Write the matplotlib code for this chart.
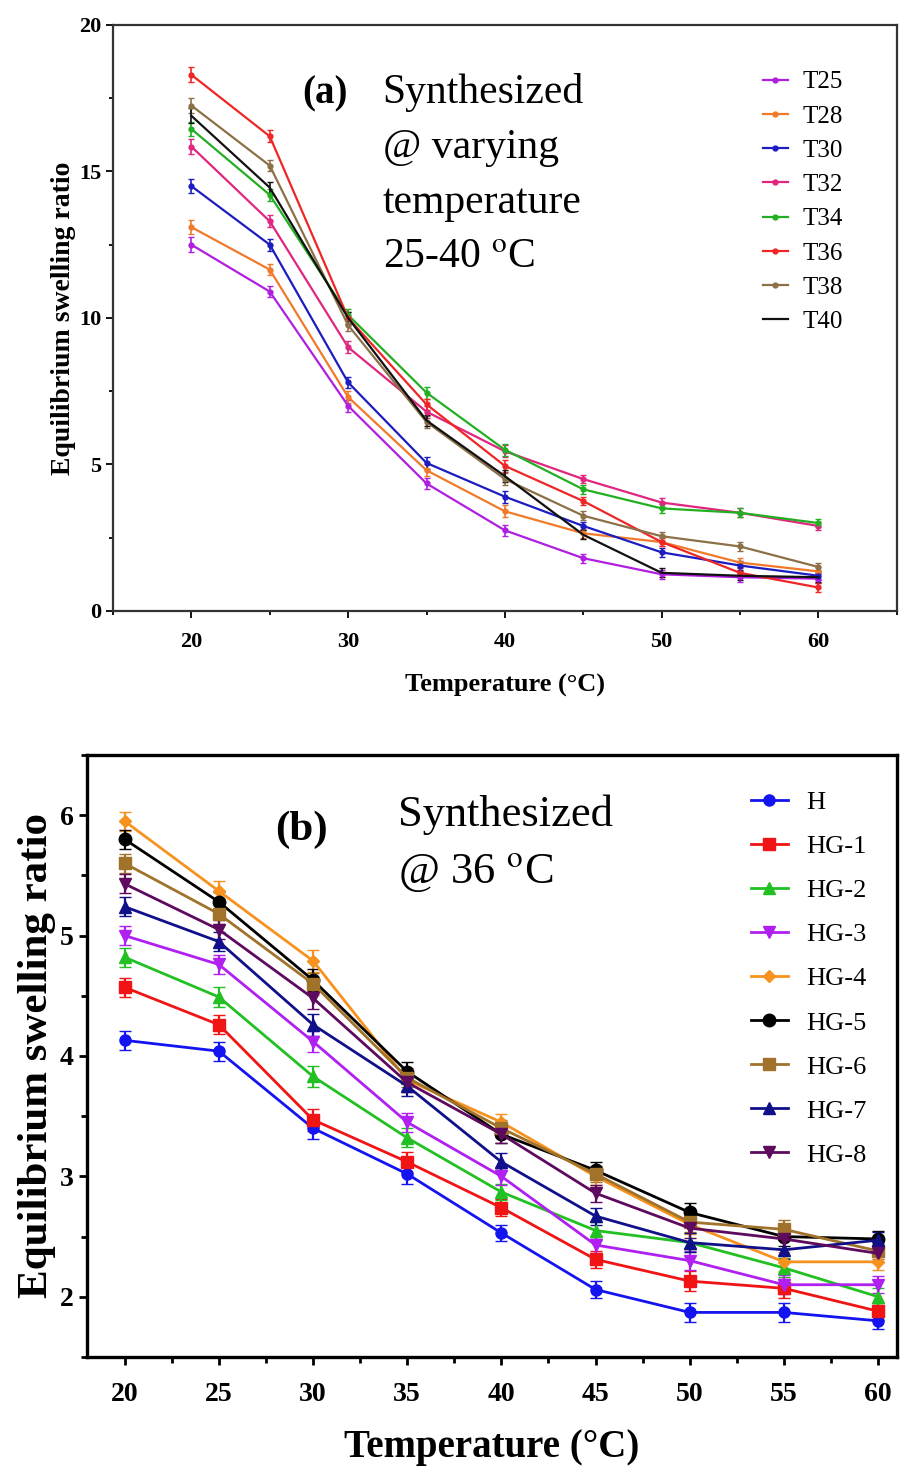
import matplotlib
matplotlib.use("Agg")
import matplotlib.pyplot as plt
from matplotlib.ticker import MultipleLocator

plt.rcParams['font.family'] = ['Liberation Serif', 'DejaVu Serif']
plt.rcParams['mathtext.fontset'] = 'stix'

# ---- panel (a) data ----
temp = [20, 25, 30, 35, 40, 45, 50, 55, 60]
labels_a = ['T25', 'T28', 'T30', 'T32', 'T34', 'T36', 'T38', 'T40']
t25 = [12.5, 10.9, 7.0, 4.35, 2.75, 1.8, 1.25, 1.15, 1.1]
t28 = [13.1, 11.65, 7.3, 4.8, 3.4, 2.65, 2.35, 1.65, 1.35]
t30 = [14.5, 12.5, 7.8, 5.05, 3.9, 2.9, 2.0, 1.55, 1.2]
t32 = [15.85, 13.3, 9.0, 6.8, 5.45, 4.5, 3.7, 3.35, 2.9]
t34 = [16.45, 14.2, 10.1, 7.45, 5.5, 4.15, 3.5, 3.35, 3.0]
t36 = [18.3, 16.2, 10.0, 7.05, 4.95, 3.75, 2.35, 1.3, 0.8]
t38 = [17.25, 15.2, 9.75, 6.45, 4.5, 3.25, 2.55, 2.2, 1.5]
t40 = [16.9, 14.45, 10.0, 6.5, 4.6, 2.6, 1.3, 1.2, 1.15]
err_a = [0.25, 0.2, 0.2, 0.2, 0.2, 0.15, 0.15, 0.15, 0.15]
series_a = [t25, t28, t30, t32, t34, t36, t38, t40]
colors_a = ['#b01fe0', '#f07a2a', '#1c1cc0', '#e0267e', '#22b022',
            '#f02626', '#8c7048', '#111111']

# ---- panel (b) data ----
labels_b = ['H', 'HG-1', 'HG-2', 'HG-3', 'HG-4', 'HG-5', 'HG-6', 'HG-7', 'HG-8']
h = [4.13, 4.04, 3.4, 3.02, 2.53, 2.06, 1.87, 1.87, 1.8]
hg1 = [4.57, 4.26, 3.47, 3.12, 2.74, 2.31, 2.13, 2.07, 1.88]
hg2 = [4.82, 4.49, 3.83, 3.32, 2.87, 2.55, 2.45, 2.24, 2.0]
hg3 = [5.0, 4.76, 4.12, 3.45, 3.0, 2.43, 2.3, 2.1, 2.1]
hg4 = [5.95, 5.37, 4.79, 3.8, 3.45, 3.0, 2.6, 2.29, 2.29]
hg5 = [5.8, 5.28, 4.63, 3.87, 3.35, 3.05, 2.7, 2.5, 2.48]
hg6 = [5.6, 5.18, 4.6, 3.82, 3.4, 3.02, 2.62, 2.56, 2.38]
hg7 = [5.24, 4.95, 4.26, 3.75, 3.12, 2.67, 2.45, 2.39, 2.47]
hg8 = [5.43, 5.05, 4.48, 3.78, 3.35, 2.86, 2.57, 2.48, 2.36]
err_b = [0.08, 0.08, 0.09, 0.08, 0.07, 0.07, 0.08, 0.08, 0.07]
series_b = [h, hg1, hg2, hg3, hg4, hg5, hg6, hg7, hg8]
colors_b = ['#1414f0', '#f01414', '#22c022', '#b020f0', '#f7921e',
            '#000000', '#a0722a', '#10108a', '#5e0a5e']
markers_b = ['o', 's', '^', 'v', 'D', 'o', 's', '^', 'v']
msizes_b = [8, 8, 8, 8, 6, 9, 9, 8, 8]

fig = plt.figure(figsize=(9.04, 14.7), dpi=100)

# ---------- (a) ----------
ax1 = fig.add_axes([0.125, 0.5844, 0.867, 0.3986])
lines_a = []
for vals, lab, col in zip(series_a, labels_a, colors_a):
    mk = None if lab == 'T40' else 'o'
    eb = ax1.errorbar(temp, vals, yerr=err_a, color=col, marker=mk, markersize=3.5,
                      linewidth=1.6, capsize=2.5, elinewidth=1.2, label=lab)
    lines_a.append(eb[0])
ax1.set_xlim(15, 65)
ax1.set_ylim(0, 20)
ax1.xaxis.set_major_locator(MultipleLocator(10))
ax1.xaxis.set_minor_locator(MultipleLocator(5))
ax1.yaxis.set_major_locator(MultipleLocator(5))
ax1.yaxis.set_minor_locator(MultipleLocator(2.5))
ax1.tick_params(which='both', direction='out', width=1.3, labelsize=16)
ax1.tick_params(which='major', length=5)
ax1.tick_params(which='minor', length=3)
ax1.tick_params(axis='x', pad=10)
for lb in ax1.get_xticklabels() + ax1.get_yticklabels():
    lb.set_fontweight('bold')
for s in ax1.spines.values():
    s.set_linewidth(1.6)
    s.set_color('#333333')
ax1.set_xlabel('Temperature (°C)', fontsize=19, fontweight='bold', labelpad=16)
ax1.set_ylabel('Equilibrium swelling ratio', fontsize=20, fontweight='bold', labelpad=2)
ax1.text(0.242, 0.883, '(a)', transform=ax1.transAxes, fontsize=28,
         fontweight='bold', va='center')
ax1.text(0.344, 0.918, 'Synthesized\n@ varying\ntemperature\n25-40 $^{\\mathrm{o}}$C',
         transform=ax1.transAxes, fontsize=30, va='top', linespacing=1.56)
ax1.legend(lines_a, labels_a, loc='upper left', bbox_to_anchor=(0.80, 0.96),
           frameon=False, fontsize=18, handlelength=1.0, labelspacing=0.47,
           handletextpad=0.6)

# ---------- (b) ----------
ax2 = fig.add_axes([0.0962, 0.0769, 0.896, 0.4095])
lines_b = []
for vals, lab, col, mk, ms in zip(series_b, labels_b, colors_b, markers_b, msizes_b):
    eb = ax2.errorbar(temp, vals, yerr=err_b, color=col, marker=mk, markersize=ms,
                      linewidth=2.0, capsize=4, elinewidth=1.6, label=lab)
    lines_b.append(eb[0])
ax2.set_xlim(18, 61)
ax2.set_ylim(1.5, 6.5)
ax2.xaxis.set_major_locator(MultipleLocator(5))
ax2.xaxis.set_minor_locator(MultipleLocator(2.5))
ax2.yaxis.set_major_locator(MultipleLocator(1))
ax2.yaxis.set_minor_locator(MultipleLocator(0.5))
ax2.tick_params(which='both', direction='out', width=2, labelsize=20)
ax2.tick_params(which='major', length=6)
ax2.tick_params(which='minor', length=4)
ax2.tick_params(axis='x', pad=12)
for lb in ax2.get_xticklabels() + ax2.get_yticklabels():
    lb.set_fontweight('bold')
for s in ax2.spines.values():
    s.set_linewidth(2.4)
ax2.set_xlabel('Temperature (°C)', fontsize=28, fontweight='bold', labelpad=16)
ax2.set_ylabel('Equilibrium swelling ratio', fontsize=31, fontweight='bold', labelpad=3)
ax2.text(0.232, 0.876, '(b)', transform=ax2.transAxes, fontsize=31,
         fontweight='bold', va='center')
ax2.text(0.384, 0.935, 'Synthesized\n@ 36 $^{\\mathrm{o}}$C', transform=ax2.transAxes,
         fontsize=32, va='top', linespacing=1.52)
ax2.legend(lines_b, labels_b, loc='upper left', bbox_to_anchor=(0.79, 0.98),
           frameon=False, fontsize=19, handlelength=1.4, labelspacing=0.78,
           handletextpad=0.7)

fig.savefig('out.png', dpi=100)
